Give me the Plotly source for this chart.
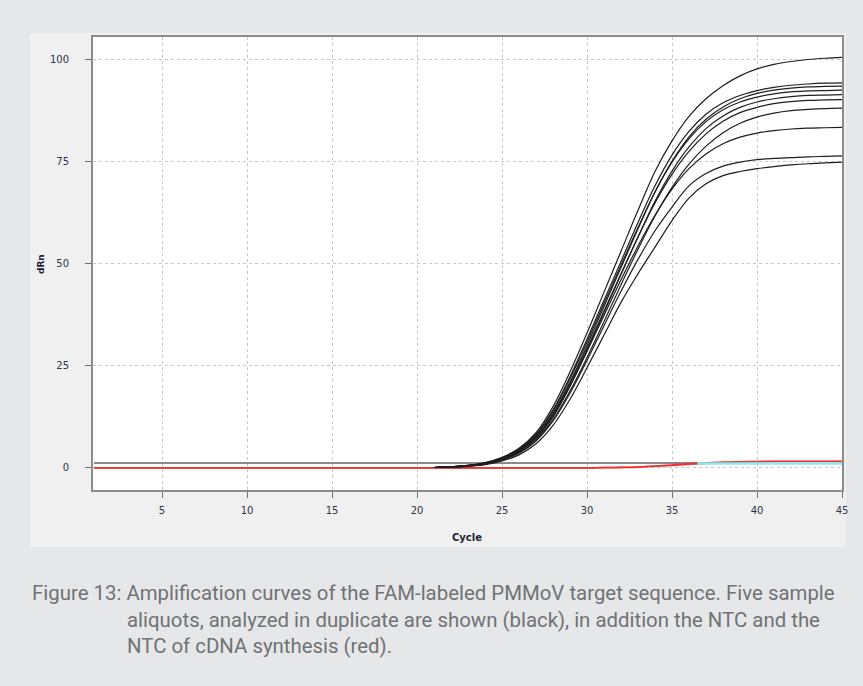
import plotly.graph_objects as go

# ---------------- data ----------------
cycles_all = list(range(1, 46))
cycles_amp = list(range(21, 46))

# five sample aliquots in duplicate (dRn per cycle 21..45)
s1 = [0.1, 0.3, 0.6, 1.3, 2.6, 4.8, 8.6, 15.0, 23.5, 33.0, 43.0, 53.0, 63.0, 72.5, 80.0, 86.0, 90.3, 93.5, 95.9, 97.6, 98.7, 99.4, 99.9, 100.2, 100.4]
s2 = [0.1, 0.3, 0.6, 1.2, 2.5, 4.6, 8.2, 14.2, 22.3, 31.5, 41.0, 50.5, 60.0, 69.0, 76.5, 82.3, 86.5, 89.3, 91.1, 92.3, 93.1, 93.6, 93.9, 94.1, 94.2]
s3 = [0.1, 0.25, 0.55, 1.1, 2.3, 4.3, 7.7, 13.3, 21.0, 30.0, 39.5, 49.0, 58.5, 67.5, 75.0, 81.0, 85.3, 88.3, 90.3, 91.6, 92.4, 92.9, 93.2, 93.3, 93.4]
s4 = [0.1, 0.3, 0.6, 1.2, 2.4, 4.5, 8.0, 13.8, 21.8, 30.8, 40.2, 49.6, 58.8, 67.5, 74.8, 80.5, 84.7, 87.6, 89.5, 90.7, 91.5, 92.0, 92.2, 92.3, 92.4]
s5 = [0.1, 0.25, 0.5, 1.0, 2.1, 4.0, 7.2, 12.5, 20.0, 28.8, 38.0, 47.3, 56.5, 65.2, 72.6, 78.5, 83.0, 86.1, 88.2, 89.5, 90.3, 90.8, 91.1, 91.2, 91.3]
s6 = [0.1, 0.25, 0.55, 1.1, 2.2, 4.2, 7.5, 13.0, 20.6, 29.3, 38.4, 47.5, 56.5, 64.8, 71.8, 77.4, 81.7, 84.8, 86.9, 88.2, 89.1, 89.6, 89.9, 90.0, 90.1]
s7 = [0.1, 0.2, 0.5, 1.0, 2.0, 3.8, 6.8, 11.8, 18.8, 27.0, 35.8, 44.8, 53.5, 61.6, 68.6, 74.3, 78.7, 82.0, 84.3, 85.8, 86.8, 87.4, 87.7, 87.9, 88.0]
s8 = [0.1, 0.25, 0.55, 1.1, 2.2, 4.1, 7.3, 12.6, 20.0, 28.5, 37.3, 46.0, 54.3, 61.8, 68.2, 73.2, 76.8, 79.3, 80.9, 81.9, 82.5, 82.9, 83.1, 83.2, 83.3]
s9 = [0.1, 0.2, 0.45, 0.9, 1.9, 3.6, 6.6, 11.5, 18.3, 26.3, 34.8, 43.2, 51.0, 58.0, 63.8, 69.0, 72.0, 73.8, 74.8, 75.4, 75.7, 75.9, 76.1, 76.2, 76.3]
s10 = [0.1, 0.2, 0.4, 0.8, 1.7, 3.2, 5.9, 10.4, 16.8, 24.5, 32.5, 40.5, 47.5, 54.0, 60.5, 66.0, 69.5, 71.5, 72.5, 73.2, 73.7, 74.1, 74.4, 74.6, 74.8]
samples = [s1, s2, s3, s4, s5, s6, s7, s8, s9, s10]

# NTC and NTC of cDNA synthesis (cycles 1..45)
ntc_a = [0, 0, 0, 0, 0, 0, 0, 0, 0, 0, 0, 0, 0, 0, 0, 0, 0, 0, 0, 0,
         0, 0, 0, 0, 0, 0, 0, 0, 0, 0, 0.05, 0.1, 0.2, 0.45, 0.7, 1.0, 1.2, 1.4, 1.5, 1.55,
         1.6, 1.6, 1.6, 1.6, 1.6]
ntc_b = [0, 0, 0, 0, 0, 0, 0, 0, 0, 0, 0, 0, 0, 0, 0, 0, 0, 0, 0, 0,
         0, 0, 0, 0, 0, 0, 0, 0, 0, 0, 0.1, 0.15, 0.25, 0.4, 0.6, 0.85, 1.1, 1.3, 1.45, 1.5,
         1.55, 1.55, 1.55, 1.55, 1.55]

threshold_y = 1.2
threshold_gray_x = [1, 36.5]
threshold_cyan_x = [36.5, 45]

x_ticks = [5, 10, 15, 20, 25, 30, 35, 40, 45]
y_ticks = [0, 25, 50, 75, 100]

caption_lines = [
    "Figure 13: Amplification curves of the FAM-labeled PMMoV target sequence. Five sample",
    "aliquots, analyzed in duplicate are shown (black), in addition the NTC and the",
    "NTC of cDNA synthesis (red).",
]

# ---------------- figure ----------------
W, H = 863, 686
L, R, T, B = 93, 842, 37, 490


def px(xp):
    return (xp - L) / (R - L)


def py(yp):
    return (B - yp) / (B - T)


fig = go.Figure()

# threshold line (gray part)
fig.add_trace(go.Scatter(x=threshold_gray_x, y=[threshold_y, threshold_y], mode="lines",
                         line=dict(color="#8a8a8a", width=2), hoverinfo="skip"))

# NTC curves
fig.add_trace(go.Scatter(x=cycles_all, y=ntc_b, mode="lines",
                         line=dict(color="#ff6a6a", width=1.5, shape="spline"), hoverinfo="skip"))
fig.add_trace(go.Scatter(x=cycles_all, y=ntc_a, mode="lines",
                         line=dict(color="#f03030", width=1.8, shape="spline"), hoverinfo="skip"))

# threshold line (cyan part)
fig.add_trace(go.Scatter(x=threshold_cyan_x, y=[threshold_y - 0.1, threshold_y - 0.1], mode="lines",
                         line=dict(color="#86ecf2", width=2.5), hoverinfo="skip"))

# sample curves
for s in samples:
    fig.add_trace(go.Scatter(x=cycles_amp, y=s, mode="lines",
                             line=dict(color="#1e1e1e", width=1.2, shape="spline"),
                             hoverinfo="skip"))

axis_common = dict(
    showline=True, linecolor="#8c8c8c", linewidth=2, mirror=True,
    ticks="outside", ticklen=6, tickcolor="#707070", tickwidth=1,
    showgrid=True, gridcolor="#c8c8c8", griddash="dot", gridwidth=1,
    zeroline=False,
    tickfont=dict(family="DejaVu Sans", size=10, color="#30334a"),
)

fig.update_xaxes(range=[0.94, 45], tickvals=x_ticks, ticklabelstandoff=4, **axis_common)
fig.update_yaxes(range=[-5.4, 105.4], tickvals=y_ticks, ticklabelstandoff=14, **axis_common)

shapes = [
    dict(type="rect", xref="paper", yref="paper",
         x0=px(30), x1=px(846), y0=py(547), y1=py(33),
         fillcolor="#f0f0f0", line=dict(width=0), layer="below"),
    dict(type="rect", xref="paper", yref="paper",
         x0=0, x1=1, y0=0, y1=1,
         fillcolor="#ffffff", line=dict(width=0), layer="below"),
]

annotations = [
    dict(text="<b>Cycle</b>", x=px(467), y=py(537), xref="paper", yref="paper",
         showarrow=False, xanchor="center", yanchor="middle",
         font=dict(family="DejaVu Sans", size=10, color="#222233")),
    dict(text="<b>dRn</b>", x=px(41), y=py(264), xref="paper", yref="paper",
         showarrow=False, xanchor="center", yanchor="middle", textangle=-90,
         font=dict(family="DejaVu Sans", size=9, color="#222233")),
]
cap_pos = [(30, 593), (125, 620), (125, 646)]
for line, (cx, cy) in zip(caption_lines, cap_pos):
    annotations.append(dict(
        text=line, x=px(cx), y=py(cy), xref="paper", yref="paper",
        showarrow=False, xanchor="left", yanchor="middle",
        font=dict(family="Roboto", size=20.4, color="#707275")))

fig.update_layout(
    width=W, height=H,
    margin=dict(l=L, r=W - R, t=T, b=H - B),
    paper_bgcolor="#e6e7e8", plot_bgcolor="#ffffff",
    showlegend=False,
    shapes=shapes, annotations=annotations,
)

fig.write_html("out.html")
